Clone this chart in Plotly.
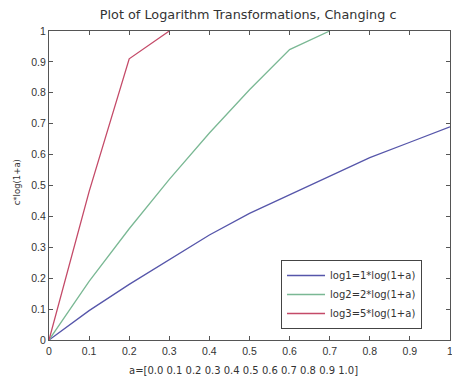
import plotly.graph_objects as go

a = [0.0, 0.1, 0.2, 0.3, 0.4, 0.5, 0.6, 0.7, 0.8, 0.9, 1.0]
# values; the curves leave the axes at y = 1
log1 = [0.0, 0.095, 0.18, 0.26, 0.34, 0.41, 0.47, 0.53, 0.59, 0.64, 0.69]
log2 = [0.0, 0.19, 0.36, 0.52, 0.67, 0.81, 0.94, 1.0, None, None, None]
log3 = [0.0, 0.48, 0.91, 1.0, None, None, None, None, None, None, None]
names = ["log1=1*log(1+a)", "log2=2*log(1+a)", "log3=5*log(1+a)"]
colors = ["#5656aa", "#7ab894", "#c44a68"]
tick_vals = [0, 0.1, 0.2, 0.3, 0.4, 0.5, 0.6, 0.7, 0.8, 0.9, 1]
tick_text = ["0", "0.1", "0.2", "0.3", "0.4", "0.5", "0.6", "0.7", "0.8", "0.9", "1"]

fig = go.Figure()
for ys, nm, c in zip([log1, log2, log3], names, colors):
    fig.add_trace(go.Scatter(x=a, y=ys, mode="lines", name=nm,
                             line=dict(color=c, width=1.3)))

sans = "Liberation Sans, Arial, sans-serif"
wide = "DejaVu Sans, Verdana, sans-serif"
axis_common = dict(showgrid=False, zeroline=False, showline=True, linecolor="#555",
                   linewidth=1, mirror="ticks", ticks="inside", ticklen=4,
                   tickcolor="#555", automargin=False, range=[0, 1],
                   tickvals=tick_vals, ticktext=tick_text, ticklabeloverflow="allow",
                   tickfont=dict(size=10.5, color="#333", family=sans))
fig.update_xaxes(ticklabelstandoff=1, **axis_common)
fig.update_yaxes(**axis_common)

fig.add_annotation(text="a=[0.0 0.1 0.2 0.3 0.4 0.5 0.6 0.7 0.8 0.9 1.0]",
                   xref="paper", yref="paper", x=0.484, y=-0.10,
                   xanchor="center", yanchor="middle", showarrow=False,
                   font=dict(size=10, color="#333", family=wide))
fig.add_annotation(text="c*log(1+a)", textangle=-90,
                   xref="paper", yref="paper", x=-0.08, y=0.51,
                   xanchor="center", yanchor="middle", showarrow=False,
                   font=dict(size=8.5, color="#333", family=wide))

fig.update_layout(
    width=452, height=376,
    margin=dict(l=49, r=2, t=31, b=36),
    paper_bgcolor="white", plot_bgcolor="white",
    title=dict(text="Plot of Logarithm Transformations, Changing c", x=0.549, xanchor="center",
               y=0.962, yanchor="middle", font=dict(size=12.8, color="#333", family=wide)),
    legend=dict(x=0.5786, y=0.0356, xanchor="left", yanchor="bottom",
                bordercolor="#444", borderwidth=1, bgcolor="white",
                font=dict(size=10, color="#333", family=wide), tracegroupgap=0,
                itemwidth=38),
    showlegend=True,
)
fig.write_html("out.html", config={"displayModeBar": False},
               post_script="document.body.style.margin='0px';document.body.style.overflow='hidden';")
